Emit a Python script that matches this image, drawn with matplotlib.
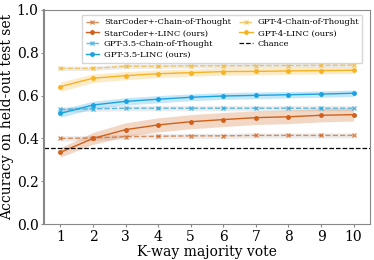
import numpy as np
import matplotlib
matplotlib.use("Agg")
from matplotlib import pyplot as plt

plt.rcParams["font.family"] = "DejaVu Serif"

k = [1, 2, 3, 4, 5, 6, 7, 8, 9, 10]

starcoder_cot = [0.400, 0.402, 0.408, 0.410, 0.412, 0.412, 0.414, 0.414, 0.414, 0.414]
starcoder_linc = [0.335, 0.400, 0.441, 0.463, 0.478, 0.488, 0.497, 0.501, 0.508, 0.511]
gpt35_cot = [0.536, 0.538, 0.541, 0.541, 0.541, 0.541, 0.541, 0.541, 0.541, 0.541]
gpt35_linc = [0.517, 0.556, 0.573, 0.583, 0.592, 0.598, 0.601, 0.604, 0.607, 0.611]
gpt4_cot = [0.727, 0.727, 0.737, 0.737, 0.739, 0.739, 0.740, 0.740, 0.741, 0.742]
gpt4_linc = [0.642, 0.681, 0.693, 0.702, 0.707, 0.712, 0.713, 0.715, 0.717, 0.718]

starcoder_cot_err = [0.012, 0.012, 0.012, 0.012, 0.012, 0.012, 0.012, 0.012, 0.012, 0.012]
starcoder_linc_err = [0.022, 0.028, 0.032, 0.033, 0.033, 0.033, 0.032, 0.032, 0.031, 0.030]
gpt35_cot_err = [0.012, 0.012, 0.012, 0.012, 0.012, 0.012, 0.012, 0.012, 0.012, 0.012]
gpt35_linc_err = [0.018, 0.018, 0.017, 0.017, 0.016, 0.016, 0.016, 0.015, 0.015, 0.015]
gpt4_cot_err = [0.010, 0.010, 0.010, 0.010, 0.010, 0.010, 0.010, 0.010, 0.010, 0.010]
gpt4_linc_err = [0.022, 0.020, 0.019, 0.018, 0.017, 0.017, 0.016, 0.016, 0.016, 0.015]

chance = 0.357

c_star = "#d0601a"
c_gpt35 = "#1aa3e0"
c_gpt4 = "#f5b324"

fig = plt.figure(figsize=(3.74, 2.6), dpi=100)
ax = fig.add_axes([0.118, 0.138, 0.871, 0.824])

def band(y, e, color):
    y = np.array(y)
    e = np.array(e)
    ax.fill_between(k, y - e, y + e, color=color, alpha=0.25, linewidth=0)

band(starcoder_cot, starcoder_cot_err, "#b0b0b0")
band(gpt35_cot, gpt35_cot_err, "#b0b0b0")
band(gpt4_cot, gpt4_cot_err, "#b0b0b0")
band(starcoder_linc, starcoder_linc_err, c_star)
band(gpt35_linc, gpt35_linc_err, c_gpt35)
band(gpt4_linc, gpt4_linc_err, c_gpt4)

ax.plot(k, starcoder_cot, "--x", color=c_star, alpha=0.7, lw=1, ms=3, label="StarCoder+-Chain-of-Thought")
ax.plot(k, starcoder_linc, "-o", color=c_star, lw=1, ms=2.5, label="StarCoder+-LINC (ours)")
ax.plot(k, gpt35_cot, "--x", color=c_gpt35, alpha=0.7, lw=1, ms=3, label="GPT-3.5-Chain-of-Thought")
ax.plot(k, gpt35_linc, "-o", color=c_gpt35, lw=1, ms=2.5, label="GPT-3.5-LINC (ours)")
ax.plot(k, gpt4_cot, "--x", color=c_gpt4, alpha=0.7, lw=1, ms=3, label="GPT-4-Chain-of-Thought")
ax.plot(k, gpt4_linc, "-o", color=c_gpt4, lw=1, ms=2.5, label="GPT-4-LINC (ours)")
ax.axhline(chance, color="black", ls="--", lw=0.9, label="Chance")

ax.set_xlim(0.5, 10.5)
ax.set_ylim(0, 1.0)
ax.set_xticks(k)
ax.set_yticks([0.0, 0.2, 0.4, 0.6, 0.8, 1.0])
ax.tick_params(labelsize=10, length=2, color="#888888", pad=2)
ax.set_xlabel("K-way majority vote", fontsize=10, labelpad=1)
ax.set_ylabel("Accuracy on held-out test set", fontsize=10, labelpad=2)
for s in ax.spines.values():
    s.set_color("#888888")
ax.spines["left"].set_linewidth(1.5)

ax.legend(ncol=2, fontsize=6.0, loc="upper right", bbox_to_anchor=(0.99, 0.995),
          handlelength=1.6, columnspacing=1.0, labelspacing=0.35, borderpad=0.4,
          handletextpad=0.6, frameon=True, fancybox=False)

fig.savefig("out.png", dpi=100)
